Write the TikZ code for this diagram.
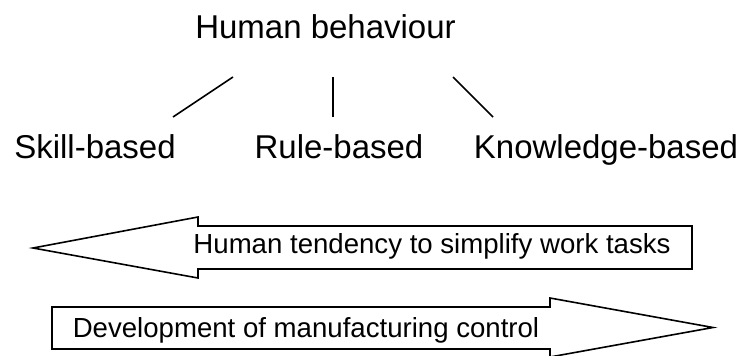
\documentclass[tikz,border=0pt]{standalone}
\usepackage{fontspec}
\setmainfont{Liberation Sans}
\usetikzlibrary{calc}

\begin{document}
\begin{tikzpicture}[x=1pt,y=-1pt,line width=1.6pt,
    level/.style={font=\fontsize{33}{40}\selectfont,inner sep=0pt,anchor=base},
    trend/.style={font=\fontsize{27.6}{33}\selectfont,inner sep=0pt,anchor=base}]
      \useasboundingbox (0,0) rectangle (742,356);
      \node[level] (h_beh) at (325.5,38) {Human behaviour};
      \node[level] (s_based) at (95,158) {Skill-based};
      \node[level] (r_based) at (339,158) {Rule-based};
      \node[level] (k_based) at (606,158) {Knowledge-based};
      \draw ($(h_beh.base)+(-92.5,39)$) -- ($(s_based.base)+(78,-41)$);
      \draw ($(h_beh.base)+(7.5,39)$) -- ($(r_based.base)+(-6,-41)$);
      \draw ($(h_beh.base)+(127.5,39)$) -- ($(k_based.base)+(-113,-41)$);
      \draw (33,248) -- (198,217) -- (198,226) -- (692,226) -- (692,269)
            -- (198,269) -- (198,278) -- cycle;
      \node[trend] (t_simp) at (432,253) {Human tendency to simplify work tasks};
      \draw (52,307) -- (550,307) -- (550,298) -- (713,327.5) -- (550,357)
            -- (550,349) -- (52,349) -- cycle;
      \node[trend] (t_dev) at (306,337) {Development of manufacturing control};
    \end{tikzpicture}
\end{document}
